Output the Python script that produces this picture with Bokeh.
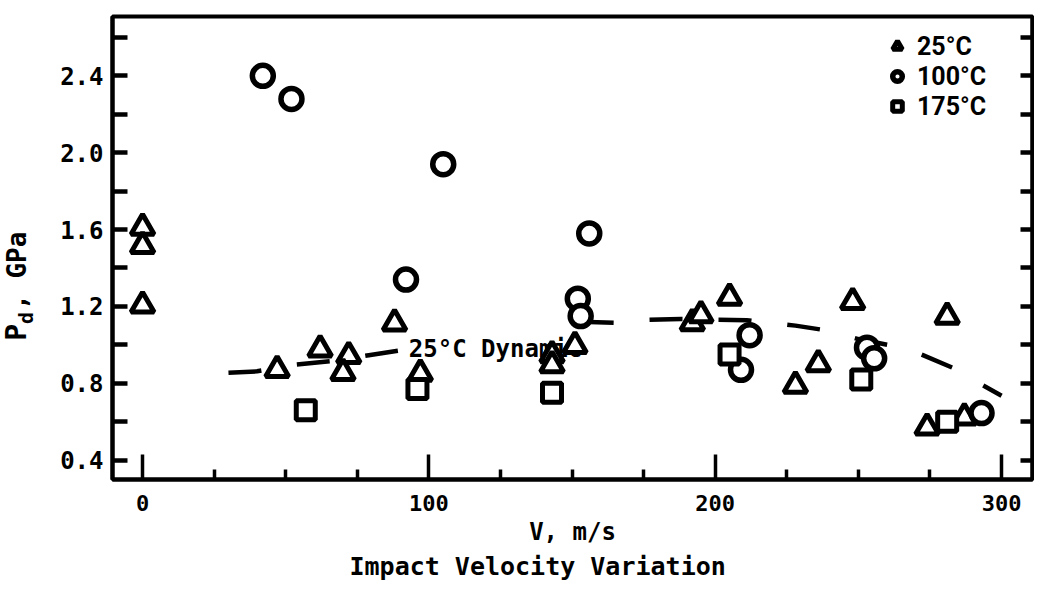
import math
from bokeh.plotting import figure
from bokeh.layouts import row
from bokeh.core.properties import value
from bokeh.models import (FixedTicker, PrintfTickFormatter, LinearAxis, Label, Legend,
                          LegendItem, Title, Range1d, CustomJSTickFormatter)
from bokeh.embed import file_html
from bokeh.resources import INLINE

# ---------------- data ----------------
# 25 °C  (triangles)
v25 = [0, 0, 0, 47, 62, 72, 70, 88, 97, 143, 143, 151, 192, 195, 205, 228, 236, 248, 281, 274, 287]
p25 = [1.61, 1.515, 1.205, 0.87, 0.977, 0.942, 0.854, 1.112, 0.85, 0.947, 0.895, 0.995,
       1.113, 1.155, 1.246, 0.788, 0.90, 1.223, 1.147, 0.57, 0.623]
# 100 °C (circles)
v100 = [42, 52, 105, 92, 156, 152, 153, 212, 209, 253, 255.5, 293]
p100 = [2.40, 2.28, 1.94, 1.34, 1.58, 1.24, 1.15, 1.05, 0.87, 0.985, 0.93, 0.645]
# 175 °C (squares)
v175 = [57, 96, 143, 205, 251, 281]
p175 = [0.66, 0.77, 0.75, 0.95, 0.82, 0.60]
# 25 °C dynamic curve (dashed); gap where the label sits
dyn_v = [30, 40, 53, 66, 79, 92, float("nan"), 153, 165, 177, 188, 201, 211, 228, 239, 250,
         262, 272, 283, 291, 300]
dyn_p = [0.855, 0.862, 0.896, 0.915, 0.946, 0.975, float("nan"), 1.12, 1.115, 1.13, 1.135,
         1.13, 1.128, 1.10, 1.075, 1.03, 0.995, 0.95, 0.88, 0.81, 0.735]

x_ticks = [0, 100, 200, 300]
x_minor = [25, 50, 75, 125, 150, 175, 225, 250, 275]
y_ticks = [0.4, 0.8, 1.2, 1.6, 2.0, 2.4]
y_minor = [0.6, 1.0, 1.4, 1.8, 2.2, 2.6]

legend_labels = ["25°C", "100°C", "175°C"]
curve_label = "25°C Dynamic"
x_title = "V, m/s"
y_title_parts = ["P", "d", ", GPa"]
caption = "Impact Velocity Variation"

MONO = "DejaVu Sans Mono"
TOTAL_W, TOTAL_H = 1034, 582
LAB_W = 48

y_range = Range1d(0.299, 2.709)

# ---------------- y-axis title strip (P with subscript d) ----------------
pl = figure(width=LAB_W, height=TOTAL_H, x_range=Range1d(0, LAB_W), y_range=y_range,
            output_backend="svg", toolbar_location=None, x_axis_type=None, y_axis_type=None,
            min_border_left=0, min_border_right=0, min_border_top=0, min_border_bottom=0)
pl.grid.visible = False
pl.outline_line_color = None
pl.background_fill_color = "white"
pl.border_fill_color = "white"
ylab_common = dict(angle=math.pi / 2, text_font=value(MONO), text_font_style="bold",
                   text_color="black", text_baseline="alphabetic", text_align="left")
pl.text(x=[16], y=[1.021], text=[y_title_parts[0]], text_font_size="28px", **ylab_common)
pl.text(x=[25], y=[1.109], text=[y_title_parts[1]], text_font_size="20px", **ylab_common)
pl.text(x=[16], y=[1.182], text=[y_title_parts[2]], text_font_size="26px", **ylab_common)

# ---------------- main figure ----------------
p = figure(width=TOTAL_W - LAB_W, height=TOTAL_H, x_range=Range1d(-10.5, 310.8),
           y_range=y_range, output_backend="svg", toolbar_location=None,
           min_border_left=112 - LAB_W, min_border_right=2, min_border_top=16,
           min_border_bottom=102)
p.grid.visible = False
p.outline_line_color = "black"
p.outline_line_width = 4
p.background_fill_color = "white"
p.border_fill_color = "white"

xa = p.xaxis[0]
xa.ticker = FixedTicker(ticks=x_ticks, minor_ticks=x_minor)
xa.major_tick_in = 25
xa.major_tick_out = 0
xa.minor_tick_in = 10
xa.minor_tick_out = 0
xa.major_tick_line_width = 3.5
xa.minor_tick_line_width = 3.5
xa.axis_line_width = 4
xa.major_label_text_font = MONO
xa.major_label_text_font_style = "bold"
xa.major_label_text_font_size = "22px"
xa.major_label_text_color = "black"
xa.major_label_standoff = 15
xa.axis_label = x_title
xa.axis_label_text_font = MONO
xa.axis_label_text_font_style = "bold"
xa.axis_label_text_font_size = "24px"
xa.axis_label_text_color = "black"
xa.axis_label_standoff = 4

ya = p.yaxis[0]
ya.ticker = FixedTicker(ticks=y_ticks, minor_ticks=y_minor)
ya.formatter = PrintfTickFormatter(format="%.1f")
ya.major_tick_in = 15
ya.major_tick_out = 0
ya.minor_tick_in = 15
ya.minor_tick_out = 0
ya.major_tick_line_width = 4.5
ya.minor_tick_line_width = 4.5
ya.axis_line_width = 4
ya.major_label_text_font = MONO
ya.major_label_text_font_style = "bold"
ya.major_label_text_font_size = "24px"
ya.major_label_text_color = "black"
ya.major_label_standoff = 9

ra = LinearAxis(ticker=FixedTicker(ticks=y_ticks, minor_ticks=y_minor),
                formatter=CustomJSTickFormatter(code="return ''"))
ra.major_tick_in = 12
ra.major_tick_out = 0
ra.minor_tick_in = 12
ra.minor_tick_out = 0
ra.major_tick_line_width = 4.5
ra.minor_tick_line_width = 4.5
ra.axis_line_width = 4
ra.major_label_standoff = 0
ra.major_label_text_font_size = "1px"
p.add_layout(ra, "right")

# caption below
p.add_layout(Title(text=caption, align="left", offset=237, standoff=3, text_font=MONO,
                   text_font_size="25px", text_font_style="bold", text_color="black"), "below")

# dashed dynamic curve and its label (under the markers)
p.line(dyn_v, dyn_p, line_color="black", line_width=4.5, line_dash="33 36")
p.add_layout(Label(x=93, y=0.98, text=curve_label, text_font=MONO, text_font_size="24px",
                   text_font_style="bold", text_color="black", text_baseline="alphabetic",
                   level="underlay"))

# markers
r25 = p.scatter(v25, p25, marker="triangle", size=23, fill_color="white",
                line_color="black", line_width=5)
r100 = p.scatter(v100, p100, marker="circle", size=21, fill_color="white",
                 line_color="black", line_width=5.5)
r175 = p.scatter(v175, p175, marker="square", size=19, fill_color="white",
                 line_color="black", line_width=5)

legend = Legend(items=[LegendItem(label=legend_labels[0], renderers=[r25]),
                       LegendItem(label=legend_labels[1], renderers=[r100]),
                       LegendItem(label=legend_labels[2], renderers=[r175])],
                location=(773, 358), orientation="vertical", glyph_width=24, glyph_height=30,
                label_height=30, spacing=0, label_standoff=8, padding=0, margin=0,
                border_line_alpha=0, background_fill_alpha=0,
                label_text_font="Roboto", label_text_font_size="25px",
                label_text_font_style="bold", label_text_color="black")
p.add_layout(legend)

layout = row(pl, p, spacing=0)
open("out.html", "w").write(file_html(layout, INLINE))
